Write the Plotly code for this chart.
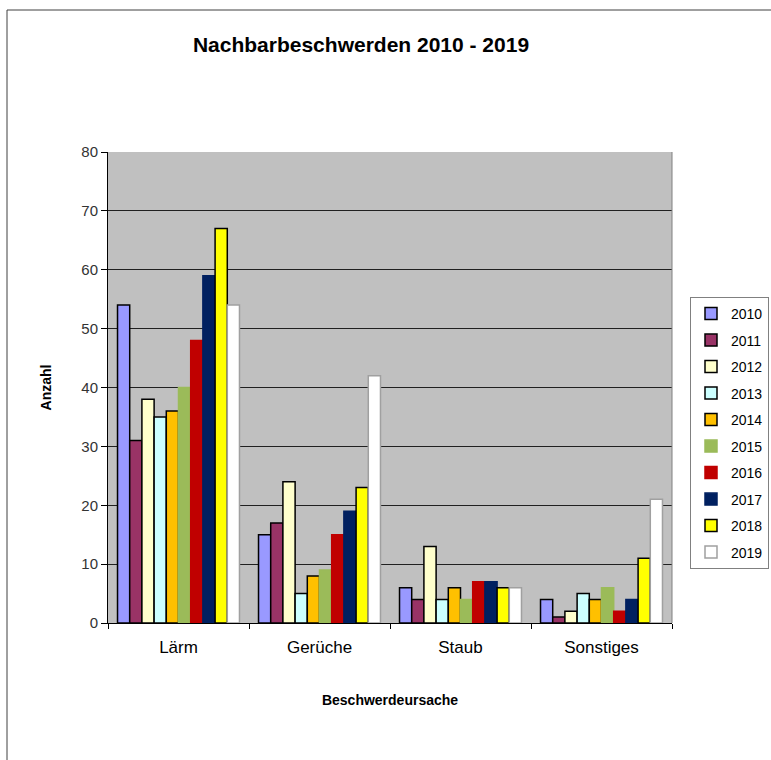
import plotly.graph_objects as go

categories = ["Lärm", "Gerüche", "Staub", "Sonstiges"]
years = ["2010", "2011", "2012", "2013", "2014", "2015", "2016", "2017", "2018", "2019"]
values = {
    "2010": [54, 15, 6, 4],
    "2011": [31, 17, 4, 1],
    "2012": [38, 24, 13, 2],
    "2013": [35, 5, 4, 5],
    "2014": [36, 8, 6, 4],
    "2015": [40, 9, 4, 6],
    "2016": [48, 15, 7, 2],
    "2017": [59, 19, 7, 4],
    "2018": [67, 23, 6, 11],
    "2019": [54, 42, 6, 21],
}
colors = ["#9999FF", "#993366", "#FFFFCC", "#CCFFFF", "#FFC000",
          "#9BBB59", "#C00000", "#002060", "#FFFF00", "#FFFFFF"]
outline = ["#000000", "#000000", "#000000", "#000000", "#000000",
           "#9BBB59", "#C00000", "#002060", "#000000", "#A0A0A0"]

fig = go.Figure()
for i, y in enumerate(years):
    fig.add_trace(go.Bar(
        name=y, x=categories, y=values[y],
        marker=dict(color=colors[i], line=dict(color=outline[i], width=1.5)),
        legendgroup=y,
    ))

W, H = 771, 760
L, R, T, B = 108, 672, 152, 623
pw, ph = R - L, B - T

fig.update_layout(
    width=W, height=H,
    margin=dict(l=L, r=W - R, t=T, b=H - B, autoexpand=False),
    paper_bgcolor="white",
    plot_bgcolor="#C0C0C0",
    barmode="group",
    bargap=0.135,
    bargroupgap=0,
    font=dict(family="Liberation Sans, Arial", color="#000000"),
    title=dict(text="<b>Nachbarbeschwerden 2010 - 2019</b>",
               x=361 / W, y=1 - 45 / H, xanchor="center", yanchor="middle",
               font=dict(size=21, color="#000000")),
    legend=dict(
        x=(690 - L) / pw, y=(B - 297) / ph, xanchor="left", yanchor="top",
        bordercolor="#808080", borderwidth=1, bgcolor="white",
        font=dict(size=14, color="#000000"),
        tracegroupgap=5.3, itemwidth=30,
    ),
    xaxis=dict(
        automargin=False,
        showline=True, linecolor="#000000", linewidth=1,
        ticks="outside", ticklen=5, tickcolor="#000000", tickson="boundaries",
        tickfont=dict(size=17, color="#000000"), ticklabelstandoff=9,
        title=dict(text="<b>Beschwerdeursache</b>", font=dict(size=14), standoff=38),
        showgrid=False,
    ),
    yaxis=dict(
        automargin=False,
        range=[0, 80], dtick=10,
        showline=True, linecolor="#000000", linewidth=1,
        ticks="outside", ticklen=6, tickcolor="#000000",
        tickfont=dict(size=15, color="#333333"),
        showgrid=True, gridcolor="#202020", gridwidth=1,
        zeroline=False,
        title=dict(text="<b>Anzahl</b>", font=dict(size=14), standoff=26),
    ),
    shapes=[
        dict(type="rect", xref="paper", yref="paper",
             x0=(7 - L) / pw, x1=(W + 20 - L) / pw,
             y0=(B - (H + 20)) / ph, y1=(B - 10) / ph,
             line=dict(color="#404040", width=1), fillcolor="rgba(0,0,0,0)", layer="below"),
        dict(type="line", xref="paper", yref="paper", x0=1, x1=1, y0=0, y1=1,
             line=dict(color="#808080", width=1)),
    ],
)

fig.write_html("out.html", config={"displayModeBar": False},
               post_script="document.body.style.margin='0px';")
